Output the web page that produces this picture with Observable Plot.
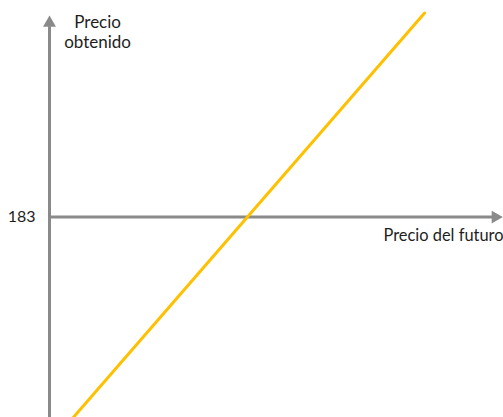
<!DOCTYPE html>
<html>
<head>
<meta charset="utf-8">
<script src="https://cdn.jsdelivr.net/npm/d3@7"></script>
<script src="https://cdn.jsdelivr.net/npm/@observablehq/plot@0.6"></script>
<style>
  html, body { margin: 0; padding: 0; background: #ffffff; }
  #chart { width: 503px; height: 417px; }
</style>
</head>
<body>
<div id="chart"></div>
<script>
// Payoff of a long futures position: obtained price vs. futures price
const futurePrice = [21, 347];
const obtainedPrice = [21, 347];
const strike = 183;
const yTicks = [183];
const xLabel = "Precio del futuro";
const yLabel = ["Precio", "obtenido"];

const payoff = futurePrice.map((f, i) => ({future: f, obtained: obtainedPrice[i]}));

const axisColor = "#8a8a8a";
const lineColor = "#FFC000";
const textColor = "#1e1e1e";

const chart = Plot.plot({
  width: 503,
  height: 417,
  marginLeft: 49,
  marginRight: 0,
  marginTop: 15,
  marginBottom: 0,
  style: {fontFamily: "Lato, 'Open Sans', sans-serif", fontSize: "16px", color: textColor},
  x: {domain: [0, 420], axis: null},
  y: {domain: [22, 345], ticks: yTicks, tickSize: 0, tickPadding: 14, label: null, tickFormat: d => String(d)},
  marks: [
    // vertical axis with arrowhead
    Plot.ruleX([0], {y1: 22, y2: 336, stroke: axisColor, strokeWidth: 3}),
    Plot.dot([0], {x: d => d, y: 339, symbol: "triangle", r: 4.8, fill: axisColor, stroke: null}),
    // horizontal axis at the strike level with arrowhead
    Plot.ruleY([strike], {x1: 0, x2: 410, stroke: axisColor, strokeWidth: 3}),
    Plot.dot([strike], {x: 412.5, y: d => d, symbol: "triangle", r: 4.8, rotate: 90, fill: axisColor, stroke: null}),
    // payoff line
    Plot.line(payoff, {x: "future", y: "obtained", stroke: lineColor, strokeWidth: 3}),
    // axis titles
    Plot.text([xLabel], {x: 420, y: strike, text: d => d, textAnchor: "end", dy: 19, fontSize: 16.4, fill: textColor}),
    Plot.text([yLabel.join("\n")], {x: 44.5, y: 332, text: d => d, lineHeight: 1.2, fontSize: 17, fill: textColor})
  ]
});

document.getElementById("chart").appendChild(chart);
</script>
</body>
</html>
